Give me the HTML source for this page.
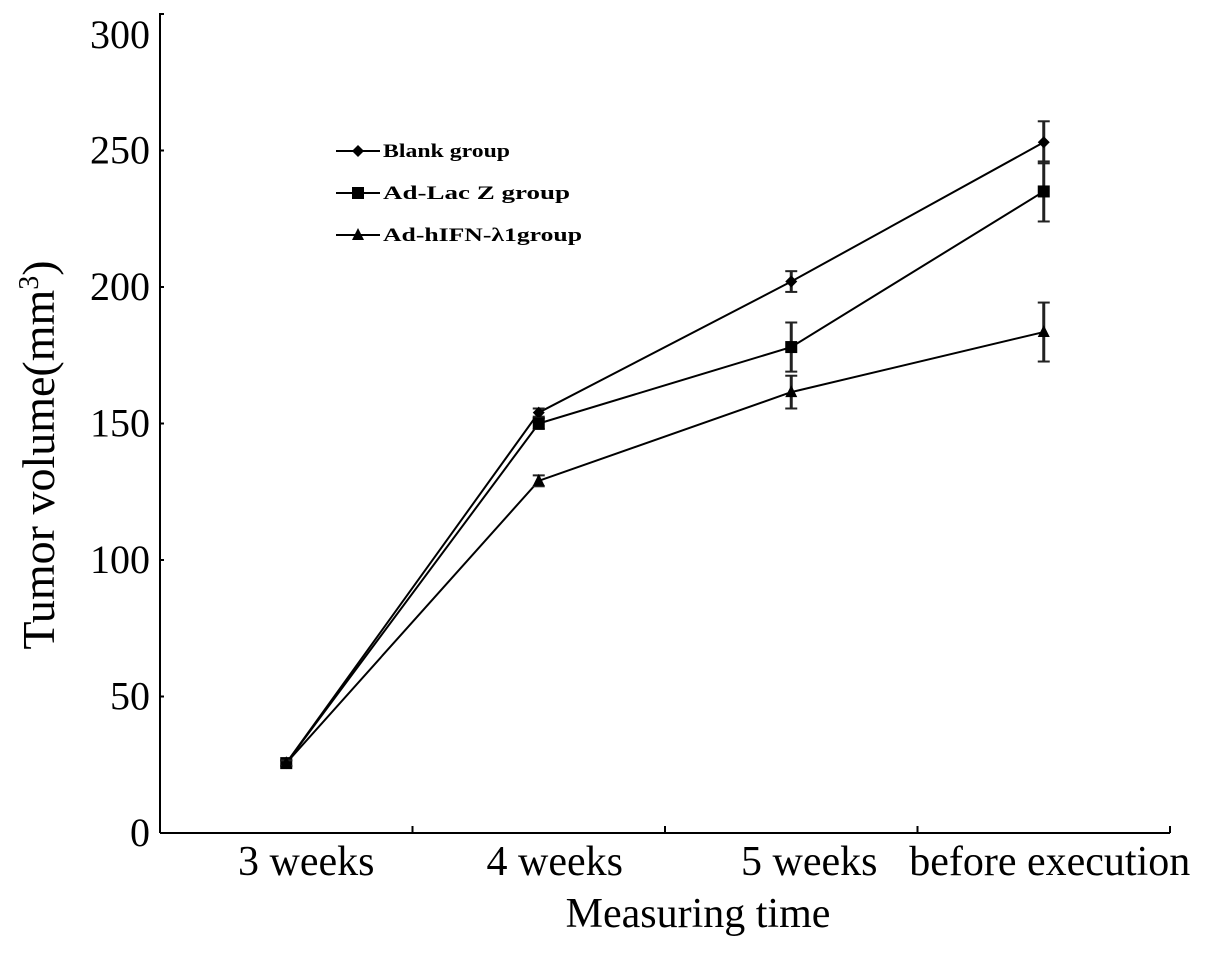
<!DOCTYPE html>
<html><head><meta charset="utf-8"><style>
body{margin:0;background:#fff}
svg{display:block;font-family:"Liberation Serif",serif}
</style></head><body>
<svg width="1205" height="954">
<g id="axes"></g><g id="marks"></g><g id="legend"></g>
<text x="698" y="927" font-size="42" text-anchor="middle">Measuring time</text>
<text transform="translate(54,455) rotate(-90)" font-size="46" text-anchor="middle">Tumor volume(mm<tspan font-size="28" dy="-16">3</tspan><tspan dy="16">)</tspan></text>
</svg>
<script>
const categories=["3 weeks","4 weeks","5 weeks","before execution"];
const yTicks=[0,50,100,150,200,250,300];
const seriesNames=["Blank group","Ad-Lac Z group","Ad-hIFN-λ1group"];
const blankVals=[25.6,154,202,253];
const lacVals=[25.6,150,178,235];
const ifnVals=[25.6,129,161.5,183.5];
const blankErr=[1,1.5,3.8,7.7];
const lacErr=[1,2,9,11];
const ifnErr=[1,2,6,10.8];
const NS="http://www.w3.org/2000/svg";
const X0=160,BW=252.5,Y0=833,K=2.73;
const xs=i=>X0+BW*(i+0.5), ys=v=>Y0-v*K;
const labelShift=[20,16,18,6];
function mk(t,a,p){const e=document.createElementNS(NS,t);for(const k in a)e.setAttribute(k,a[k]);p.appendChild(e);return e;}
const ax=document.getElementById('axes'),mg=document.getElementById('marks'),lg=document.getElementById('legend');
let l=mk('line',{x1:X0,y1:13,x2:X0,y2:Y0,stroke:'#000','stroke-width':2},ax);


l=mk('line',{x1:X0,y1:Y0,x2:X0+BW*4,y2:Y0,stroke:'#000','stroke-width':2},ax);


yTicks.forEach(v=>{
 mk('line',{x1:X0,y1:ys(v),x2:X0+4,y2:ys(v),stroke:'#000','stroke-width':2},ax);
 const yy=Math.max(ys(v),35);
 const t=mk('text',{x:150,y:yy+13,'font-size':40,'text-anchor':'end'},ax);t.textContent=v;
 
 
});
categories.forEach((c,i)=>{
 mk('line',{x1:X0+BW*(i+1),y1:Y0,x2:X0+BW*(i+1),y2:Y0-7,stroke:'#000','stroke-width':2},ax);
 const t=mk('text',{x:xs(i)+labelShift[i],y:875,'font-size':42,'text-anchor':'middle'},ax);t.textContent=c;
 
 
});
function marker(type,x,y,p){
 if(type===0)return mk('polygon',{points:`${x},${y-6} ${x+6},${y} ${x},${y+6} ${x-6},${y}`,fill:'#000'},p);
 if(type===1)return mk('rect',{x:x-6,y:y-6,width:12,height:12,fill:'#000'},p);
 return mk('polygon',{points:`${x},${y-7} ${x+6},${y+5} ${x-6},${y+5}`,fill:'#000'},p);
}
[[blankVals,blankErr],[lacVals,lacErr],[ifnVals,ifnErr]].forEach(([vals,errs],s)=>{
 const g=mk('g',{},mg);
 
 
 const pl=mk('polyline',{points:vals.map((v,i)=>xs(i)+','+ys(v)).join(' '),fill:'none',stroke:'#000','stroke-width':2},g);
 
 
 vals.forEach((v,i)=>{
  const x=xs(i),t=ys(v+errs[i]),b=ys(v-errs[i]);
  mk('line',{x1:x,y1:t,x2:x,y2:b,stroke:'#222','stroke-width':3},g);
  mk('line',{x1:x-6,y1:t,x2:x+6,y2:t,stroke:'#222','stroke-width':2},g);
  mk('line',{x1:x-6,y1:b,x2:x+6,y2:b,stroke:'#222','stroke-width':2},g);
  const m=marker(s,x,ys(v),g);
  
  
 });
});
const legendLens=[127,187,199];
seriesNames.forEach((n,s)=>{
 const y=151+s*42;
 const g=mk('g',{},lg);
 
 
 mk('line',{x1:336,y1:y,x2:380,y2:y,stroke:'#000','stroke-width':2},g);
 marker(s,358,y,g);
 const t=mk('text',{x:383,y:y+6,'font-size':19,'font-weight':'bold',textLength:legendLens[s],lengthAdjust:'spacingAndGlyphs'},g);t.textContent=n;
});
</script>
</body></html>
